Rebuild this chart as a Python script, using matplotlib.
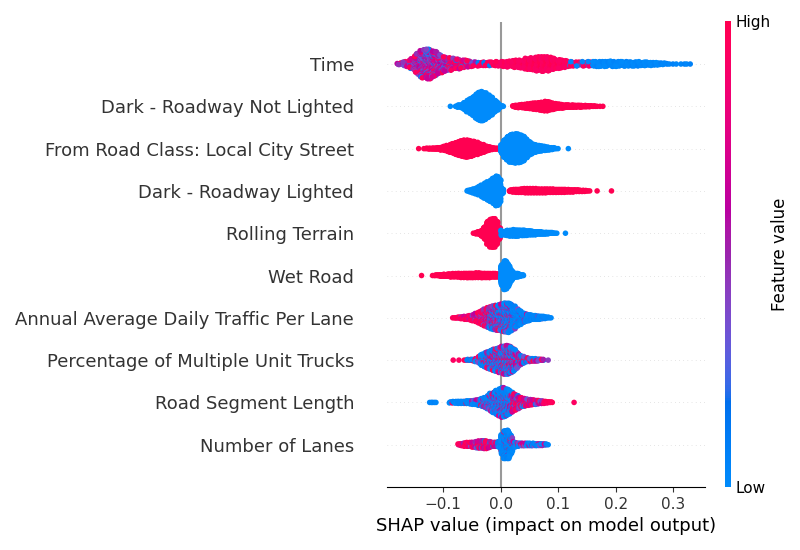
import numpy as np
import matplotlib
matplotlib.use("Agg")
import matplotlib.pyplot as plt
from matplotlib.colors import LinearSegmentedColormap
from matplotlib.cm import ScalarMappable

# ---------------- data ----------------
feature_names = [
    "Time",
    "Dark - Roadway Not Lighted",
    "From Road Class: Local City Street",
    "Dark - Roadway Lighted",
    "Rolling Terrain",
    "Wet Road",
    "Annual Average Daily Traffic Per Lane",
    "Percentage of Multiple Unit Trucks",
    "Road Segment Length",
    "Number of Lanes",
]
continuous = [True, False, False, False, False, False, True, True, True, True]

# SHAP value histograms: left edge of first bin, bin width, number of samples per bin
hist_starts = [-0.18, -0.090, -0.145, -0.060, -0.050, -0.140, -0.085, -0.085, -0.125, -0.075]
hist_widths = [0.01, 0.005, 0.005, 0.005, 0.005, 0.005, 0.005, 0.005, 0.005, 0.005]

time_counts = [9, 21, 40, 87, 118, 125, 102, 75, 56, 48, 40, 33, 25, 17, 15, 15, 15, 17,
               21, 25, 29, 33, 44, 52, 60, 61, 56, 40, 33, 25, 17, 17, 17, 17, 21, 21, 21,
               21, 20, 20, 18, 18, 15, 14, 13, 10, 6, 2, 1, 2, 2]
not_lighted_counts = [1, 0, 3, 9, 15, 30, 48, 63, 80, 102, 120, 125, 112, 95, 79, 55, 40, 17, 3,
                      0, 0, 0,
                      5, 9, 12, 14, 17, 20, 24, 26, 28, 32, 36, 40, 38, 30, 25, 20, 17, 14, 12,
                      11, 10, 9, 9, 8, 7, 6, 5, 4, 3, 1, 1, 1]
road_class_counts = [1, 0, 2, 3, 4, 5, 6, 8, 13, 18, 26, 34, 44, 52, 60, 68, 73, 73, 68, 62, 52,
                     44, 36, 27, 18, 11, 7, 5, 3,
                     45, 80, 105, 118, 123, 125, 122, 112, 90, 65, 48, 36, 28, 24, 21, 17, 13,
                     10, 6, 2, 0, 0, 0, 1]
lighted_counts = [3, 9, 17, 25, 36, 50, 62, 75, 90, 105, 125, 110, 25,
                  0, 0,
                  8, 12, 14, 15, 16, 17, 17, 17, 17, 17, 16, 16, 16, 15, 15, 14, 14, 13, 13, 12,
                  11, 10, 9, 8, 7, 6, 4, 2, 0, 0, 1, 0, 0, 0, 0, 1]
rolling_counts = [1, 6, 12, 27, 55, 95, 120, 125, 100, 50,
                  14, 18, 22, 25, 27, 27, 25, 24, 22, 20, 18, 15, 13, 11, 10, 8, 7, 5, 3, 1,
                  0, 0, 1]
wet_counts = [1, 0, 0, 0, 2, 3, 5, 7, 9, 11, 13, 14, 15, 16, 17, 18, 19, 19, 19, 19, 19, 19,
              18, 18, 17, 16, 15, 13,
              90, 125, 100, 50, 22, 16, 12, 5]
aadt_counts = [2, 3, 5, 8, 11, 14, 20, 25, 34, 45, 58, 68, 79, 88, 96, 100, 104, 110, 116, 118,
               108, 92, 72, 58, 42, 32, 26, 20, 18, 15, 13, 10, 7, 3, 1]
trucks_counts = [1, 0, 1, 0, 2, 3, 4, 7, 12, 28, 45, 58, 70, 79, 88, 96, 104, 112, 120, 120,
                 108, 92, 68, 45, 30, 20, 15, 12, 10, 9, 7, 5, 0, 1]
length_counts = [2, 2, 1, 0, 0, 0, 0, 4, 6, 8, 9, 9, 10, 12, 14, 17, 20, 25, 32, 42, 55, 72,
                 85, 100, 112, 125, 118, 105, 90, 72, 60, 45, 36, 30, 25, 22, 20, 16, 13, 11,
                 8, 5, 3, 0, 0, 0, 0, 0, 0, 0, 1]
lanes_counts = [5, 10, 14, 17, 18, 20, 24, 30, 32, 32, 28, 22, 18, 17, 25, 80, 118, 120, 80,
                25, 14, 12, 11, 11, 10, 10, 9, 9, 8, 7, 5, 1]
hist_counts = [time_counts, not_lighted_counts, road_class_counts, lighted_counts,
               rolling_counts, wet_counts, aadt_counts, trucks_counts, length_counts,
               lanes_counts]

# feature-value mix (share of low / mid / high values) in SHAP ranges split at these edges
zone_edges = [
    [-0.09, -0.04, 0.0, 0.12, 0.16],
    [0.01],
    [0.0],
    [0.01],
    [0.0],
    [0.0],
    [-0.05, -0.02, 0.0, 0.02],
    [-0.06, -0.02, 0.025],
    [-0.05, 0.02, 0.075],
    [-0.05, -0.005, 0.02],
]
zone_mix = [
    [(0.1, 0.7, 0.2), (0.05, 0.45, 0.5), (0.12, 0.1, 0.78), (0, 0, 1), (0.5, 0, 0.5), (1, 0, 0)],
    [(1, 0, 0), (0, 0, 1)],
    [(0, 0, 1), (1, 0, 0)],
    [(1, 0, 0), (0, 0, 1)],
    [(0, 0, 1), (1, 0, 0)],
    [(0, 0, 1), (1, 0, 0)],
    [(0, 0.15, 0.85), (0.05, 0.4, 0.55), (0.4, 0.45, 0.15), (0.65, 0.28, 0.07), (0.92, 0.08, 0)],
    [(0, 0, 1), (0.6, 0.15, 0.25), (0.5, 0.35, 0.15), (0.2, 0.6, 0.2)],
    [(0.9, 0, 0.1), (0.7, 0.25, 0.05), (0.1, 0.5, 0.4), (0, 0, 1)],
    [(0, 0.2, 0.8), (0.1, 0.5, 0.4), (0.9, 0.05, 0.05), (0.5, 0.45, 0.05)],
]

xtick_values = [-0.1, 0.0, 0.1, 0.2, 0.3]

# ---------------- SHAP red_blue colormap (LCH interpolation) ----------------
def lch_to_rgb(l, c, h):
    a = c * np.cos(h)
    b = c * np.sin(h)
    fy = (l + 16.0) / 116.0
    fx = fy + a / 500.0
    fz = fy - b / 200.0
    d = 6.0 / 29.0

    def finv(t):
        return t ** 3 if t > d else 3 * d * d * (t - 4.0 / 29.0)

    xyz = np.array([0.95047 * finv(fx), 1.0 * finv(fy), 1.08883 * finv(fz)])
    m = np.array([[3.2404542, -1.5371385, -0.4985314],
                  [-0.9692660, 1.8760108, 0.0415560],
                  [0.0556434, -0.2040259, 1.0572252]])
    rgb = m @ xyz
    rgb = np.where(rgb > 0.0031308,
                   1.055 * np.power(np.clip(rgb, 0, None), 1 / 2.4) - 0.055,
                   12.92 * rgb)
    return np.clip(rgb, 0, 1)


blue_lch = [54.0, 70.0, 4.6588]
l_mid = 40.0
red_lch = [54.0, 90.0, 0.35470565 + 2 * np.pi]
nsteps = 100
l_vals = list(np.linspace(blue_lch[0], l_mid, nsteps // 2)) + list(np.linspace(l_mid, red_lch[0], nsteps // 2))
c_vals = np.linspace(blue_lch[1], red_lch[1], nsteps)
h_vals = np.linspace(blue_lch[2], red_lch[2], nsteps)
cmap_colors = [lch_to_rgb(l, c, h) for l, c, h in zip(l_vals, c_vals, h_vals)]
cmap = LinearSegmentedColormap.from_list("red_blue", list(zip(np.linspace(0, 1, nsteps), cmap_colors)))

# ---------------- build samples from the histograms ----------------
LEVEL_RANGES = [(0.0, 0.08), (0.30, 0.72), (0.90, 1.0)]
BINARY_LEVELS = [0.0, 0.5, 1.0]
GOLD = 0.6180339887


def split_counts(n, fr):
    fr = np.asarray(fr, float)
    raw = fr * n
    k = np.floor(raw).astype(int)
    rem = n - int(k.sum())
    order = np.argsort(-(raw - k), kind="stable")
    for i in range(rem):
        k[order[i]] += 1
    return k


def build_feature(start, width, counts, edges, mixes, cont):
    xs, cs = [], []
    for i, n in enumerate(counts):
        if n == 0:
            continue
        left = start + i * width
        center = left + width / 2
        zone = int(np.searchsorted(edges, center))
        k = split_counts(n, mixes[zone])
        items = []
        for cls in range(3):
            for j in range(k[cls]):
                items.append(((j + 0.5) / k[cls], cls, j))
        items.sort()
        for m, (_, cls, j) in enumerate(items):
            off = 0.5 if n == 1 else ((m + 0.5) * GOLD) % 1.0
            xs.append(left + off * width)
            if cont:
                lo, hi = LEVEL_RANGES[cls]
                t = ((j + 0.5) * GOLD) % 1.0
                cs.append(lo + (hi - lo) * t)
            else:
                cs.append(BINARY_LEVELS[cls])
    return np.array(xs), np.array(cs)


def swarm_offsets(shaps, row_height=0.4):
    n = len(shaps)
    nbins = 100
    quant = np.round(nbins * (shaps - shaps.min()) / (shaps.max() - shaps.min() + 1e-8))
    inds = np.argsort(quant, kind="stable")
    layer = 0
    last = -1
    ys = np.zeros(n)
    for ind in inds:
        if quant[ind] != last:
            layer = 0
        ys[ind] = np.ceil(layer / 2) * ((layer % 2) * 2 - 1)
        layer += 1
        last = quant[ind]
    ys *= 0.9 * (row_height / np.max(ys + 1))
    return ys


# ---------------- figure ----------------
fig = plt.figure(figsize=(8, 5.5), dpi=100)
ax = fig.add_axes([0.4834, 0.1145, 0.3979, 0.846])

n_feat = len(feature_names)
ax.axvline(x=0, color="#999999", zorder=-1)
for r in range(n_feat):
    pos = n_feat - 1 - r
    ax.axhline(y=pos, color="#cccccc", lw=0.5, dashes=(1, 5), zorder=-1)
    xs, cs = build_feature(hist_starts[r], hist_widths[r], hist_counts[r],
                           zone_edges[r], zone_mix[r], continuous[r])
    ys = swarm_offsets(xs)
    ax.scatter(xs, pos + ys, c=cs, cmap=cmap, vmin=0, vmax=1, s=16, alpha=1,
               linewidth=0, zorder=3, rasterized=True)

ax.set_ylim(-1, n_feat)
ax.set_xlim(-0.198, 0.355)
ax.set_xticks(xtick_values)
ax.set_yticks(range(n_feat))
ax.set_yticklabels(list(reversed(feature_names)), fontsize=13)
ax.xaxis.set_ticks_position("bottom")
ax.yaxis.set_ticks_position("none")
for s in ["right", "top", "left"]:
    ax.spines[s].set_visible(False)
ax.tick_params(color="#333333", labelcolor="#333333")
ax.tick_params("y", length=20, width=0.5, which="major")
ax.tick_params("x", labelsize=11)
ax.set_xlabel("SHAP value (impact on model output)", fontsize=13)

cax = fig.add_axes([0.906, 0.1145, 0.0075, 0.847])
sm = ScalarMappable(cmap=cmap)
sm.set_clim(0, 1)
cb = fig.colorbar(sm, cax=cax, ticks=[0, 1])
cb.set_ticklabels(["Low", "High"])
cb.set_label("Feature value", size=12, labelpad=0)
cb.ax.tick_params(labelsize=11, length=0)
cb.outline.set_visible(False)

fig.savefig("out.png", dpi=100)
